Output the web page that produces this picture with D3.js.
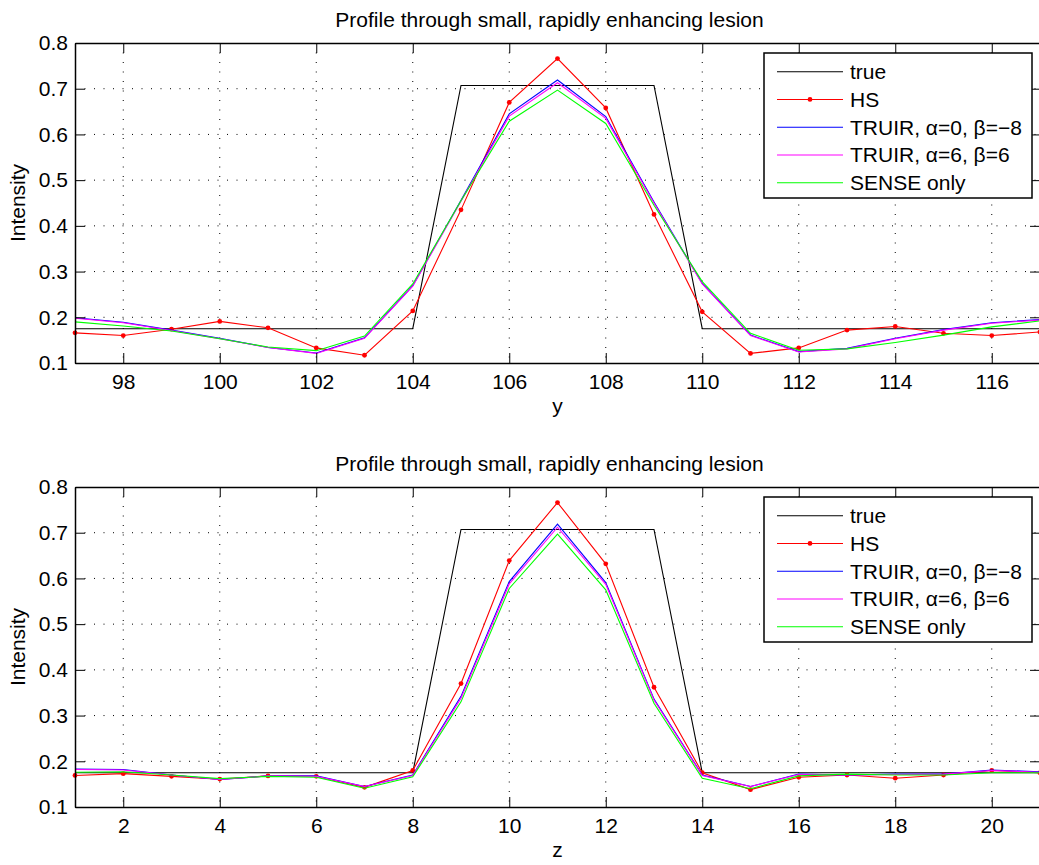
<!DOCTYPE html>
<html>
<head>
<meta charset="utf-8">
<script src="https://cdn.jsdelivr.net/npm/d3@7"></script>
<style>
  body { margin: 0; background: #fff; }
  svg text { font-family: "Liberation Sans", Arial, Helvetica, sans-serif; fill: #000; }
</style>
</head>
<body>
<div id="profile-vis"></div>
<script>
// data
var topX = [97, 98, 99, 100, 101, 102, 103, 104, 105, 106, 107, 108, 109, 110, 111, 112, 113, 114, 115, 116, 117];
var topTrue = [0.175, 0.175, 0.175, 0.175, 0.175, 0.175, 0.175, 0.175, 0.707, 0.707, 0.707, 0.707, 0.707, 0.175, 0.175, 0.175, 0.175, 0.175, 0.175, 0.175, 0.175];
var topHS = [0.166, 0.160, 0.174, 0.191, 0.177, 0.133, 0.117, 0.214, 0.435, 0.670, 0.766, 0.658, 0.425, 0.212, 0.121, 0.133, 0.172, 0.180, 0.165, 0.160, 0.168];
var topTruir0 = [0.199, 0.189, 0.172, 0.154, 0.134, 0.122, 0.155, 0.269, 0.456, 0.645, 0.719, 0.639, 0.452, 0.274, 0.161, 0.125, 0.132, 0.154, 0.173, 0.188, 0.195];
var topTruir6 = [0.198, 0.188, 0.171, 0.153, 0.134, 0.121, 0.154, 0.268, 0.454, 0.640, 0.713, 0.635, 0.450, 0.273, 0.160, 0.124, 0.131, 0.153, 0.172, 0.187, 0.194];
var topSense = [0.190, 0.181, 0.170, 0.153, 0.135, 0.127, 0.159, 0.273, 0.455, 0.629, 0.697, 0.624, 0.445, 0.278, 0.165, 0.128, 0.131, 0.145, 0.161, 0.179, 0.192];

var botX = [1, 2, 3, 4, 5, 6, 7, 8, 9, 10, 11, 12, 13, 14, 15, 16, 17, 18, 19, 20, 21];
var botTrue = [0.175, 0.175, 0.175, 0.175, 0.175, 0.175, 0.175, 0.175, 0.707, 0.707, 0.707, 0.707, 0.707, 0.175, 0.175, 0.175, 0.175, 0.175, 0.175, 0.175, 0.175];
var botHS = [0.169, 0.173, 0.167, 0.161, 0.168, 0.167, 0.143, 0.180, 0.370, 0.639, 0.766, 0.632, 0.362, 0.175, 0.138, 0.165, 0.170, 0.163, 0.170, 0.180, 0.175];
var botTruir0 = [0.183, 0.182, 0.170, 0.160, 0.168, 0.168, 0.145, 0.170, 0.342, 0.593, 0.719, 0.591, 0.336, 0.170, 0.145, 0.172, 0.170, 0.172, 0.172, 0.181, 0.177];
var botTruir6 = [0.182, 0.181, 0.170, 0.160, 0.168, 0.167, 0.145, 0.169, 0.338, 0.588, 0.712, 0.587, 0.334, 0.169, 0.145, 0.171, 0.170, 0.171, 0.172, 0.180, 0.176];
var botSense = [0.176, 0.177, 0.170, 0.162, 0.167, 0.165, 0.141, 0.166, 0.330, 0.578, 0.697, 0.575, 0.327, 0.163, 0.140, 0.168, 0.172, 0.170, 0.170, 0.175, 0.175];

var topTicks = [98, 100, 102, 104, 106, 108, 110, 112, 114, 116];
var botTicks = [2, 4, 6, 8, 10, 12, 14, 16, 18, 20];
var yTicks = [0.1, 0.2, 0.3, 0.4, 0.5, 0.6, 0.7, 0.8];

var seriesNames = ['true', 'HS', 'TRUIR, \u03b1=0, \u03b2=\u22128', 'TRUIR, \u03b1=6, \u03b2=6', 'SENSE only'];
var seriesColors = ['#000000', '#ff0000', '#0000ff', '#ff00ff', '#00ff00'];

var titleText = 'Profile through small, rapidly enhancing lesion';

var w = 1039;
var h = 865;
var left = 75;
var right = 1040;
var plotH = 320;
var tickLen = 10;
var fontSize = 21;

var svg = d3.select('#profile-vis')
  .append('svg')
    .attr('width', w)
    .attr('height', h);

var panels = [
  { top: 43, xs: topX, ticks: topTicks, label: 'y', series: [topTrue, topHS, topTruir0, topTruir6, topSense] },
  { top: 487, xs: botX, ticks: botTicks, label: 'z', series: [botTrue, botHS, botTruir0, botTruir6, botSense] }
];

panels.forEach(function(p) {
  var x = d3.scaleLinear()
    .domain([p.xs[0], p.xs[p.xs.length - 1]])
    .range([left, right]);

  var y = d3.scaleLinear()
    .domain([0.1, 0.8])
    .range([p.top + plotH, p.top]);

  var g = svg.append('g');

  // dotted grid
  g.selectAll('.vgrid')
    .data(p.ticks)
    .enter()
    .append('line')
      .attr('x1', function(d) { return x(d); })
      .attr('x2', function(d) { return x(d); })
      .attr('y1', p.top)
      .attr('y2', p.top + plotH)
      .attr('stroke', '#000')
      .attr('stroke-width', 1)
      .attr('stroke-dasharray', '1,8.5');

  g.selectAll('.hgrid')
    .data(yTicks.slice(1, -1))
    .enter()
    .append('line')
      .attr('x1', left)
      .attr('x2', right)
      .attr('y1', function(d) { return y(d); })
      .attr('y2', function(d) { return y(d); })
      .attr('stroke', '#000')
      .attr('stroke-width', 1)
      .attr('stroke-dasharray', '1,8.5');

  // lines
  var line = d3.line()
    .x(function(d) { return x(d[0]); })
    .y(function(d) { return y(d[1]); });

  p.series.forEach(function(vals, i) {
    var pts = vals.map(function(v, j) { return [p.xs[j], v]; });
    g.append('path')
      .datum(pts)
      .attr('d', line)
      .attr('fill', 'none')
      .attr('stroke', seriesColors[i])
      .attr('stroke-width', 1.1);

    if (i == 1) { // HS has point markers
      g.selectAll('.hs-dot')
        .data(pts)
        .enter()
        .append('circle')
          .attr('cx', function(d) { return x(d[0]); })
          .attr('cy', function(d) { return y(d[1]); })
          .attr('r', 2.4)
          .attr('fill', seriesColors[i]);
    }
  });

  // axes (ticks point inward, mirrored on top/right)
  var fmt = d3.format('.1f');

  g.append('g')
    .attr('transform', 'translate(0,' + (p.top + plotH) + ')')
    .call(d3.axisBottom(x).tickValues(p.ticks).tickSizeInner(-tickLen).tickSizeOuter(0).tickPadding(11))
    .call(styleAxis);

  g.append('g')
    .attr('transform', 'translate(0,' + p.top + ')')
    .call(d3.axisTop(x).tickValues(p.ticks).tickSizeInner(-tickLen).tickSizeOuter(0).tickFormat(''))
    .call(styleAxis);

  g.append('g')
    .attr('transform', 'translate(' + left + ',0)')
    .call(d3.axisLeft(y).tickValues(yTicks).tickFormat(fmt).tickSizeInner(-tickLen).tickSizeOuter(0).tickPadding(7))
    .call(styleAxis);

  g.append('g')
    .attr('transform', 'translate(' + right + ',0)')
    .call(d3.axisRight(y).tickValues(yTicks).tickSizeInner(-tickLen).tickSizeOuter(0).tickFormat(''))
    .call(styleAxis);

  // titles + labels
  g.append('text')
    .attr('x', (left + right) / 2 - 8)
    .attr('y', p.top - 16)
    .attr('text-anchor', 'middle')
    .attr('font-size', fontSize)
    .text(titleText);

  g.append('text')
    .attr('x', (left + right) / 2)
    .attr('y', p.top + plotH + 50)
    .attr('text-anchor', 'middle')
    .attr('font-size', fontSize)
    .text(p.label);

  g.append('text')
    .attr('transform', 'translate(25,' + (p.top + plotH / 2) + ') rotate(-90)')
    .attr('text-anchor', 'middle')
    .attr('font-size', fontSize)
    .text('Intensity');

  // legend
  var lg = g.append('g')
    .attr('transform', 'translate(764,' + (p.top + 10) + ')');

  lg.append('rect')
    .attr('width', 268)
    .attr('height', 145)
    .attr('fill', '#fff')
    .attr('stroke', '#000')
    .attr('stroke-width', 1.5);

  seriesNames.forEach(function(name, i) {
    var ly = 18.7 + i * 27.75;
    lg.append('line')
      .attr('x1', 13)
      .attr('x2', 79)
      .attr('y1', ly)
      .attr('y2', ly)
      .attr('stroke', seriesColors[i])
      .attr('stroke-width', 1.1);
    if (i == 1) {
      lg.append('circle')
        .attr('cx', 46)
        .attr('cy', ly)
        .attr('r', 2.4)
        .attr('fill', seriesColors[i]);
    }
    lg.append('text')
      .attr('x', 86)
      .attr('y', ly + 7.5)
      .attr('font-size', fontSize)
      .text(name);
  });
});

function styleAxis(sel) {
  sel.select('.domain').attr('stroke', '#000').attr('stroke-width', 1.5);
  sel.selectAll('.tick line').attr('stroke', '#000').attr('stroke-width', 1);
  sel.selectAll('.tick text')
    .attr('font-size', fontSize)
    .attr('font-family', '"Liberation Sans", Arial, sans-serif')
    .attr('fill', '#000');
}
</script>
</body>
</html>
